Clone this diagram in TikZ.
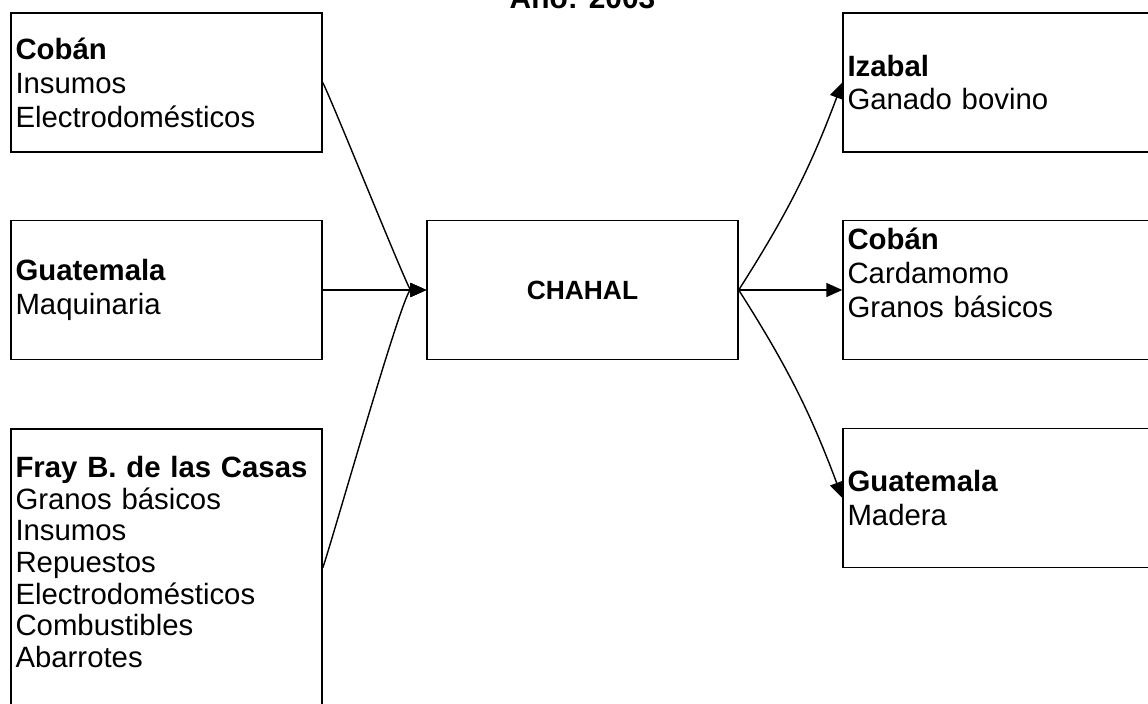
\documentclass[tikz,border=0pt]{standalone}
\usepackage{fontspec}
\setmainfont{Liberation Sans}
\usetikzlibrary{arrows.meta}

\tikzset{
  caja/.style={draw, line width=0.8pt, minimum width=6.22cm, minimum height=2.78cm,
    inner xsep=0.09cm, text width=6.04cm, align=left,
    font=\fontsize{16.7}{19.3}\selectfont},
  flecha/.style={line width=0.8pt, -{Triangle[length=0.32cm,width=0.28cm]}}
}

\begin{document}
\begin{tikzpicture}

\useasboundingbox (0,0) rectangle (22.96,14.06);

% title (cut off at the top)
\node[anchor=base, font=\bfseries\fontsize{17}{19}\selectfont] (anio) at (11.65,13.88) {Año: 2003};

% where goods come from
\node[caja] (cobanO) at (3.33,12.41) {\textbf{Cobán}\\Insumos\\Electrodomésticos};
\node[caja] (guateO) at (3.33,8.26) {\textbf{Guatemala}\\Maquinaria};
\node[caja, minimum height=5.56cm, font=\fontsize{16.7}{18}\selectfont] (fray) at (3.33,2.70)
  {\textbf{Fray B. de las Casas}\\Granos básicos\\Insumos\\Repuestos\\Electrodomésticos\\Combustibles\\Abarrotes\\[-11pt]\mbox{}};

% the town
\node[caja, align=center, font=\bfseries\fontsize{15}{18}\selectfont] (chahal) at (11.65,8.26) {CHAHAL};

% where goods go
\node[caja] (izabal) at (19.97,12.41) {\textbf{Izabal}\\Ganado bovino};
\node[caja] (cobanD) at (19.97,8.26) {\textbf{Cobán}\\Cardamomo\\Granos básicos\\\mbox{}};
\node[caja] (guateD) at (19.97,4.10) {\textbf{Guatemala}\\Madera};

% flows in
\draw[flecha] (cobanO.east) to[out=-62, in=180, looseness=0.2] (chahal.west);
\draw[flecha] (guateO.east) -- (chahal.west);
\draw[flecha] (fray.east) to[out=70, in=180, looseness=0.2] (chahal.west);

% flows out
\draw[flecha] (chahal.east) to[bend right=6] (izabal.west);
\draw[flecha] (chahal.east) -- (cobanD.west);
\draw[flecha] (chahal.east) to[bend left=6] (guateD.west);

\end{tikzpicture}
\end{document}
